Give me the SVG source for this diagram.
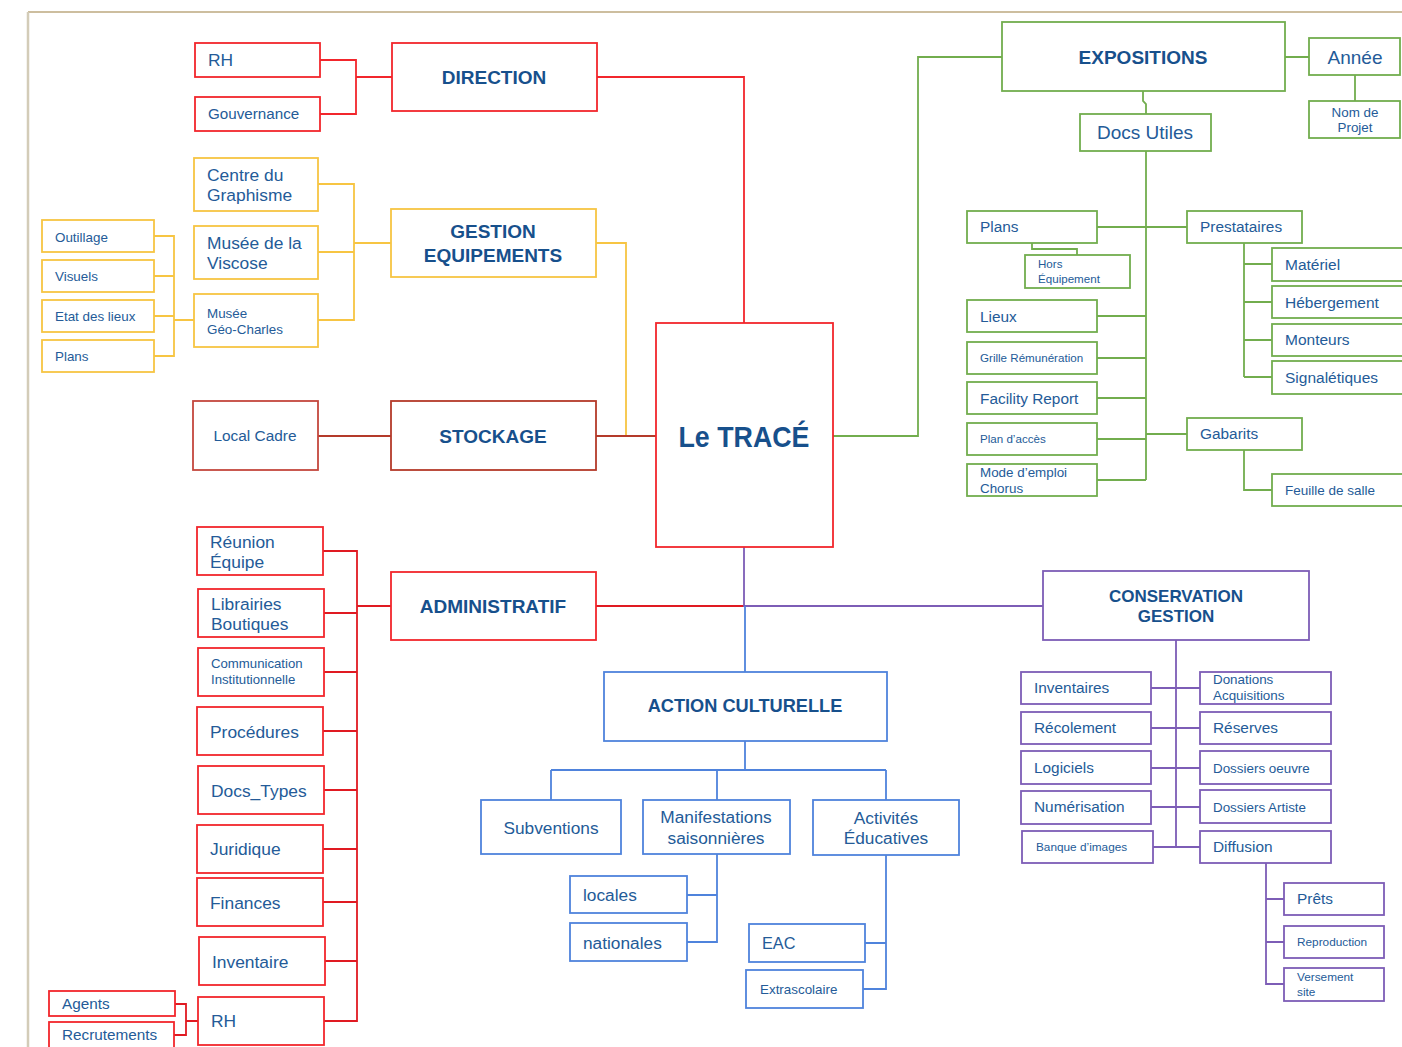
<svg xmlns="http://www.w3.org/2000/svg" width="1402" height="1047" viewBox="0 0 1402 1047">
<style>
text{font-family:"Liberation Sans",Arial,sans-serif;fill:#245b98}
.b{font-weight:bold;fill:#17508c}
.c{text-anchor:middle}
rect{fill:#fff;stroke-width:1.8}
.r rect{stroke:#f2262c}
.y rect{stroke:#f7c543}
.dr rect{stroke:#b43a2a}
.lc rect{stroke:#c4473e}
.g rect{stroke:#72ad4e}
.bl rect{stroke:#4f83dc}
.p rect{stroke:#7d5db6}
#connectors path{fill:none;stroke-width:1.8}
</style>
<g id="frame">
<line x1="28" y1="12" x2="1402" y2="12" stroke="#bca97f" stroke-width="1.5"/>
<line x1="28" y1="12" x2="28" y2="1047" stroke="#d3ccb8" stroke-width="2.5"/>
</g>
<g id="connectors">
<path stroke="#f2262c" d="M320 60H356V114H320M356 77H392M597 77H744V323"/>
<path stroke="#f7c543" d="M318 184H354V320H318M318 252H354M354 243H391M596 243H626V436M154 236H174V356H154M154 276H174M154 316H174M174 320H194"/>
<path stroke="#b43a2a" d="M318 436H391M596 436H656"/>
<path stroke="#72ad4e" d="M833 436H918V57H1002M1285 57H1309M1355 75V101M1143 91V101L1146 104V114M1146 151V480M1097 227H1187M1097 316H1146M1097 358H1146M1097 398H1146M1097 439H1146M1097 480H1146M1146 434H1187M1032 243V249H1077V255M1244 243V377M1244 264H1272M1244 302H1272M1244 340H1272M1244 377H1272M1244 450V490H1272"/>
<path stroke="#e01a22" d="M596 606H744M391 606H357M323 551H357V1021H324M324 613H357M324 672H357M323 731H357M324 790H357M323 849H357M323 902H357M325 961H357M175 1004H186V1035H174M186 1021H198"/>
<path stroke="#7d5db6" d="M744 547V606H1043M1176 640V847M1151 688H1200M1151 728H1200M1151 768H1200M1151 807H1200M1153 847H1200M1266 863V984H1284M1266 899H1284M1266 942H1284"/>
<path stroke="#4f83dc" d="M745 606V672M745 741V770M551 770H886M551 770V800M717 770V800M886 770V800M717 854V942H687M717 895H687M886 855V989H863M886 943H865"/>
</g>
<g id="center" class="r"><rect x="656" y="323" width="177" height="224"/><text class="b c" x="744" y="447" font-size="30" textLength="131" lengthAdjust="spacingAndGlyphs">Le TRACÉ</text></g>
<g id="direction" class="r"><rect x="392" y="43" width="205" height="68"/><text class="b c" x="494" y="84" font-size="19">DIRECTION</text></g>
<g id="rh-dir" class="r"><rect x="195" y="43" width="125" height="34"/><text x="208" y="66" font-size="17.4">RH</text></g>
<g id="gouvernance" class="r"><rect x="195" y="97" width="125" height="34"/><text x="208" y="119" font-size="15.2">Gouvernance</text></g>
<g id="gestion" class="y"><rect x="391" y="209" width="205" height="68"/><text class="b c" x="493" y="238" font-size="19">GESTION</text><text class="b c" x="493" y="262" font-size="19">EQUIPEMENTS</text></g>
<g id="centre-graphisme" class="y"><rect x="194" y="158" width="124" height="53"/><text x="207" y="181" font-size="17.4">Centre du</text><text x="207" y="201" font-size="17.4">Graphisme</text></g>
<g id="viscose" class="y"><rect x="194" y="226" width="124" height="53"/><text x="207" y="249" font-size="17.4">Musée de la</text><text x="207" y="269" font-size="17.4">Viscose</text></g>
<g id="geo-charles" class="y"><rect x="194" y="294" width="124" height="53"/><text x="207" y="318" font-size="13.4">Musée</text><text x="207" y="334" font-size="13.4">Géo-Charles</text></g>
<g id="outillage" class="y"><rect x="42" y="220" width="112" height="32"/><text x="55" y="242" font-size="13.4">Outillage</text></g>
<g id="visuels" class="y"><rect x="42" y="260" width="112" height="32"/><text x="55" y="281" font-size="13.4">Visuels</text></g>
<g id="etat-lieux" class="y"><rect x="42" y="300" width="112" height="32"/><text x="55" y="321" font-size="13.4">Etat des lieux</text></g>
<g id="plans-y" class="y"><rect x="42" y="340" width="112" height="32"/><text x="55" y="361" font-size="13.4">Plans</text></g>
<g id="stockage" class="dr"><rect x="391" y="401" width="205" height="69"/><text class="b c" x="493" y="443" font-size="19">STOCKAGE</text></g>
<g id="local-cadre" class="lc"><rect x="193" y="401" width="125" height="69"/><text class="c" x="255" y="441" font-size="15.4">Local Cadre</text></g>
<g id="administratif" class="r"><rect x="391" y="572" width="205" height="68"/><text class="b c" x="493" y="613" font-size="19">ADMINISTRATIF</text></g>
<g id="reunion" class="r"><rect x="197" y="527" width="126" height="48"/><text x="210" y="548" font-size="17.4">Réunion</text><text x="210" y="568" font-size="17.4">Équipe</text></g>
<g id="librairies" class="r"><rect x="198" y="589" width="126" height="48"/><text x="211" y="610" font-size="17.4">Librairies</text><text x="211" y="630" font-size="17.4">Boutiques</text></g>
<g id="communication" class="r"><rect x="198" y="648" width="126" height="48"/><text x="211" y="668" font-size="13.2">Communication</text><text x="211" y="684" font-size="13.2">Institutionnelle</text></g>
<g id="procedures" class="r"><rect x="197" y="707" width="126" height="48"/><text x="210" y="738" font-size="17.4">Procédures</text></g>
<g id="docs-types" class="r"><rect x="198" y="766" width="126" height="48"/><text x="211" y="797" font-size="17.4">Docs_Types</text></g>
<g id="juridique" class="r"><rect x="197" y="825" width="126" height="48"/><text x="210" y="855" font-size="17.4">Juridique</text></g>
<g id="finances" class="r"><rect x="197" y="878" width="126" height="48"/><text x="210" y="909" font-size="17.4">Finances</text></g>
<g id="inventaire" class="r"><rect x="199" y="937" width="126" height="48"/><text x="212" y="968" font-size="17.4">Inventaire</text></g>
<g id="rh-admin" class="r"><rect x="198" y="997" width="126" height="48"/><text x="211" y="1027" font-size="17.4">RH</text></g>
<g id="agents" class="r"><rect x="49" y="991" width="126" height="25"/><text x="62" y="1009" font-size="15.3">Agents</text></g>
<g id="recrutements" class="r"><rect x="49" y="1022" width="125" height="30"/><text x="62" y="1040" font-size="15.3">Recrutements</text></g>
<g id="expositions" class="g"><rect x="1002" y="22" width="283" height="69"/><text class="b c" x="1143" y="64" font-size="19">EXPOSITIONS</text></g>
<g id="annee" class="g"><rect x="1309" y="38" width="91" height="37"/><text class="c" x="1355" y="64" font-size="19">Année</text></g>
<g id="nom-projet" class="g"><rect x="1309" y="101" width="91" height="37"/><text class="c" x="1355" y="117" font-size="13.4">Nom de</text><text class="c" x="1355" y="132" font-size="13.4">Projet</text></g>
<g id="docs-utiles" class="g"><rect x="1080" y="114" width="131" height="37"/><text class="c" x="1145" y="139" font-size="19">Docs Utiles</text></g>
<g id="plans-g" class="g"><rect x="967" y="211" width="130" height="32"/><text x="980" y="232" font-size="15.4">Plans</text></g>
<g id="hors-equipement" class="g"><rect x="1025" y="255" width="105" height="33"/><text x="1038" y="268" font-size="11.6">Hors</text><text x="1038" y="283" font-size="11.6">Équipement</text></g>
<g id="lieux" class="g"><rect x="967" y="300" width="130" height="32"/><text x="980" y="322" font-size="15.4">Lieux</text></g>
<g id="grille" class="g"><rect x="967" y="342" width="130" height="32"/><text x="980" y="362" font-size="11.6">Grille Rémunération</text></g>
<g id="facility" class="g"><rect x="967" y="382" width="130" height="32"/><text x="980" y="404" font-size="15.4">Facility Report</text></g>
<g id="plan-acces" class="g"><rect x="967" y="423" width="130" height="32"/><text x="980" y="443" font-size="11.6">Plan d’accès</text></g>
<g id="mode-emploi" class="g"><rect x="967" y="464" width="130" height="32"/><text x="980" y="477" font-size="13.4">Mode d’emploi</text><text x="980" y="493" font-size="13.4">Chorus</text></g>
<g id="prestataires" class="g"><rect x="1187" y="211" width="115" height="32"/><text x="1200" y="232" font-size="15.4">Prestataires</text></g>
<g id="materiel" class="g"><rect x="1272" y="248" width="140" height="33"/><text x="1285" y="270" font-size="15.5">Matériel</text></g>
<g id="hebergement" class="g"><rect x="1272" y="286" width="140" height="32"/><text x="1285" y="308" font-size="15.5">Hébergement</text></g>
<g id="monteurs" class="g"><rect x="1272" y="324" width="140" height="32"/><text x="1285" y="345" font-size="15.5">Monteurs</text></g>
<g id="signaletiques" class="g"><rect x="1272" y="361" width="140" height="33"/><text x="1285" y="383" font-size="15.5">Signalétiques</text></g>
<g id="gabarits" class="g"><rect x="1187" y="418" width="115" height="32"/><text x="1200" y="439" font-size="15.4">Gabarits</text></g>
<g id="feuille-salle" class="g"><rect x="1272" y="474" width="140" height="32"/><text x="1285" y="495" font-size="13.5">Feuille de salle</text></g>
<g id="action-culturelle" class="bl"><rect x="604" y="672" width="283" height="69"/><text class="b c" x="745" y="712" font-size="18.2">ACTION CULTURELLE</text></g>
<g id="subventions" class="bl"><rect x="481" y="800" width="140" height="54"/><text class="c" x="551" y="834" font-size="17.3">Subventions</text></g>
<g id="manifestations" class="bl"><rect x="643" y="800" width="147" height="54"/><text class="c" x="716" y="823" font-size="17.3">Manifestations</text><text class="c" x="716" y="844" font-size="17.3">saisonnières</text></g>
<g id="activites" class="bl"><rect x="813" y="800" width="146" height="55"/><text class="c" x="886" y="824" font-size="17.3">Activités</text><text class="c" x="886" y="844" font-size="17.3">Éducatives</text></g>
<g id="locales" class="bl"><rect x="570" y="876" width="117" height="37"/><text x="583" y="901" font-size="17.3">locales</text></g>
<g id="nationales" class="bl"><rect x="570" y="923" width="117" height="38"/><text x="583" y="949" font-size="17.3">nationales</text></g>
<g id="eac" class="bl"><rect x="749" y="924" width="116" height="38"/><text x="762" y="949" font-size="16.3">EAC</text></g>
<g id="extrascolaire" class="bl"><rect x="746" y="970" width="117" height="38"/><text x="760" y="994" font-size="13.4">Extrascolaire</text></g>
<g id="conservation" class="p"><rect x="1043" y="571" width="266" height="69"/><text class="b c" x="1176" y="602" font-size="17">CONSERVATION</text><text class="b c" x="1176" y="622" font-size="17">GESTION</text></g>
<g id="inventaires" class="p"><rect x="1021" y="672" width="130" height="32"/><text x="1034" y="693" font-size="15.4">Inventaires</text></g>
<g id="recolement" class="p"><rect x="1021" y="712" width="130" height="32"/><text x="1034" y="733" font-size="15.4">Récolement</text></g>
<g id="logiciels" class="p"><rect x="1021" y="751" width="130" height="33"/><text x="1034" y="773" font-size="15.4">Logiciels</text></g>
<g id="numerisation" class="p"><rect x="1021" y="791" width="130" height="33"/><text x="1034" y="812" font-size="15.4">Numérisation</text></g>
<g id="banque-images" class="p"><rect x="1022" y="831" width="131" height="32"/><text x="1036" y="851" font-size="11.8">Banque d’images</text></g>
<g id="donations" class="p"><rect x="1200" y="672" width="131" height="32"/><text x="1213" y="684" font-size="13.4">Donations</text><text x="1213" y="700" font-size="13.4">Acquisitions</text></g>
<g id="reserves" class="p"><rect x="1200" y="712" width="131" height="32"/><text x="1213" y="733" font-size="15.4">Réserves</text></g>
<g id="dossiers-oeuvre" class="p"><rect x="1200" y="751" width="131" height="33"/><text x="1213" y="773" font-size="13.4">Dossiers oeuvre</text></g>
<g id="dossiers-artiste" class="p"><rect x="1200" y="790" width="131" height="33"/><text x="1213" y="812" font-size="13.4">Dossiers Artiste</text></g>
<g id="diffusion" class="p"><rect x="1200" y="831" width="131" height="32"/><text x="1213" y="852" font-size="15.4">Diffusion</text></g>
<g id="prets" class="p"><rect x="1284" y="883" width="100" height="32"/><text x="1297" y="904" font-size="15.4">Prêts</text></g>
<g id="reproduction" class="p"><rect x="1284" y="926" width="100" height="32"/><text x="1297" y="946" font-size="11.8">Reproduction</text></g>
<g id="versement" class="p"><rect x="1284" y="968" width="100" height="33"/><text x="1297" y="981" font-size="11.8">Versement</text><text x="1297" y="996" font-size="11.8">site</text></g>
</svg>
